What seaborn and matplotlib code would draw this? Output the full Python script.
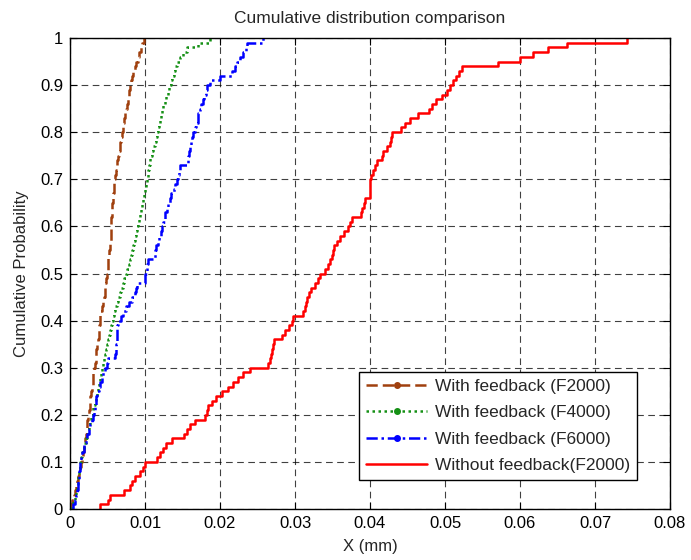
import matplotlib
matplotlib.use("Agg")
import matplotlib.pyplot as plt
from matplotlib.lines import Line2D
import seaborn as sns
import pandas as pd

# ---- data (displacement samples, mm) ----
f2000_fb = [
    0.0001, 0.0003, 0.0005, 0.0006, 0.0008, 0.0009, 0.0010, 0.0012, 0.0013, 0.0015,
    0.0016, 0.0017, 0.0018, 0.0019, 0.0020, 0.0021, 0.0022, 0.0022, 0.0023, 0.0024,
    0.0025, 0.0026, 0.0026, 0.0027, 0.0028, 0.0029, 0.0030, 0.0030, 0.0031, 0.0032,
    0.0033, 0.0034, 0.0034, 0.0035, 0.0036, 0.0037, 0.0038, 0.0038, 0.0039, 0.0040,
    0.0040, 0.0040, 0.0043, 0.0044, 0.0045, 0.0046, 0.0047, 0.0047, 0.0048, 0.0049,
    0.0050, 0.0050, 0.0051, 0.0051, 0.0052, 0.0053, 0.0053, 0.0054, 0.0054, 0.0055,
    0.0055, 0.0055, 0.0056, 0.0056, 0.0056, 0.0057, 0.0057, 0.0058, 0.0058, 0.0059,
    0.0060, 0.0061, 0.0062, 0.0063, 0.0064, 0.0065, 0.0066, 0.0067, 0.0068, 0.0069,
    0.0070, 0.0071, 0.0072, 0.0073, 0.0075, 0.0076, 0.0077, 0.0078, 0.0079, 0.0080,
    0.0081, 0.0083, 0.0084, 0.0086, 0.0088, 0.0090, 0.0092, 0.0094, 0.0096, 0.0099,
]
f4000_fb = [
    0.0002, 0.0004, 0.0006, 0.0008, 0.0009, 0.0010, 0.0011, 0.0012, 0.0013, 0.0013,
    0.0015, 0.0016, 0.0018, 0.0019, 0.0021, 0.0022, 0.0024, 0.0025, 0.0027, 0.0028,
    0.0030, 0.0031, 0.0033, 0.0034, 0.0036, 0.0037, 0.0038, 0.0040, 0.0041, 0.0043,
    0.0044, 0.0045, 0.0046, 0.0048, 0.0049, 0.0050, 0.0052, 0.0053, 0.0055, 0.0056,
    0.0057, 0.0059, 0.0060, 0.0062, 0.0064, 0.0066, 0.0068, 0.0070, 0.0072, 0.0075,
    0.0076, 0.0078, 0.0080, 0.0081, 0.0083, 0.0084, 0.0085, 0.0087, 0.0088, 0.0089,
    0.0091, 0.0092, 0.0093, 0.0095, 0.0096, 0.0097, 0.0099, 0.0100, 0.0101, 0.0103,
    0.0104, 0.0104, 0.0105, 0.0106, 0.0107, 0.0109, 0.0111, 0.0113, 0.0114, 0.0116,
    0.0117, 0.0119, 0.0120, 0.0121, 0.0123, 0.0124, 0.0126, 0.0128, 0.0130, 0.0132,
    0.0134, 0.0136, 0.0138, 0.0140, 0.0143, 0.0146, 0.0150, 0.0156, 0.0170, 0.0187,
]
f6000_fb = [
    0.0004, 0.0006, 0.0008, 0.0009, 0.0011, 0.0011, 0.0012, 0.0012, 0.0013, 0.0013,
    0.0015, 0.0016, 0.0018, 0.0019, 0.0021, 0.0023, 0.0025, 0.0027, 0.0029, 0.0031,
    0.0032, 0.0033, 0.0034, 0.0035, 0.0036, 0.0038, 0.0040, 0.0042, 0.0044, 0.0047,
    0.0049, 0.0051, 0.0060, 0.0061, 0.0061, 0.0062, 0.0062, 0.0063, 0.0063, 0.0064,
    0.0068, 0.0071, 0.0075, 0.0079, 0.0083, 0.0086, 0.0088, 0.0089, 0.0100, 0.0100,
    0.0102, 0.0103, 0.0104, 0.0113, 0.0113, 0.0115, 0.0117, 0.0119, 0.0121, 0.0123,
    0.0124, 0.0126, 0.0127, 0.0129, 0.0131, 0.0133, 0.0135, 0.0138, 0.0140, 0.0143,
    0.0144, 0.0145, 0.0147, 0.0157, 0.0157, 0.0159, 0.0160, 0.0161, 0.0162, 0.0164,
    0.0166, 0.0168, 0.0170, 0.0171, 0.0173, 0.0175, 0.0177, 0.0179, 0.0181, 0.0183,
    0.0187, 0.0200, 0.0216, 0.0220, 0.0223, 0.0226, 0.0231, 0.0234, 0.0236, 0.0257,
]
f2000_nofb = [
    0.0040, 0.0051, 0.0053, 0.0072, 0.0080, 0.0083, 0.0087, 0.0093, 0.0097, 0.0100,
    0.0116, 0.0120, 0.0124, 0.0128, 0.0136, 0.0152, 0.0156, 0.0160, 0.0167, 0.0180,
    0.0183, 0.0184, 0.0189, 0.0195, 0.0203, 0.0211, 0.0217, 0.0224, 0.0231, 0.0240,
    0.0264, 0.0267, 0.0268, 0.0269, 0.0271, 0.0272, 0.0283, 0.0287, 0.0292, 0.0296,
    0.0297, 0.0311, 0.0313, 0.0315, 0.0316, 0.0319, 0.0321, 0.0327, 0.0331, 0.0333,
    0.0340, 0.0344, 0.0347, 0.0349, 0.0351, 0.0352, 0.0356, 0.0360, 0.0365, 0.0371,
    0.0373, 0.0376, 0.0388, 0.0389, 0.0392, 0.0393, 0.0400, 0.0400, 0.0400, 0.0400,
    0.0401, 0.0404, 0.0407, 0.0409, 0.0416, 0.0417, 0.0423, 0.0427, 0.0428, 0.0429,
    0.0441, 0.0447, 0.0453, 0.0464, 0.0479, 0.0483, 0.0488, 0.0496, 0.0503, 0.0507,
    0.0511, 0.0515, 0.0519, 0.0523, 0.0571, 0.0600, 0.0617, 0.0637, 0.0663, 0.0743,
]

labels = ["With feedback (F2000)", "With feedback (F4000)",
          "With feedback (F6000)", "Without feedback(F2000)"]
series = [f2000_fb, f4000_fb, f6000_fb, f2000_nofb]
colors = ["#A0400E", "#159015", "#0000FF", "#FF0000"]
styles = [(0, (4.5, 2.0)), (0, (1, 1.4)), (0, (4.5, 1.5, 1, 1.5)), "-"]

x_ticks = [0, 0.01, 0.02, 0.03, 0.04, 0.05, 0.06, 0.07, 0.08]
x_tick_labels = ["0", "0.01", "0.02", "0.03", "0.04", "0.05", "0.06", "0.07", "0.08"]
y_ticks = [0, 0.1, 0.2, 0.3, 0.4, 0.5, 0.6, 0.7, 0.8, 0.9, 1.0]
y_tick_labels = ["0", "0.1", "0.2", "0.3", "0.4", "0.5", "0.6", "0.7", "0.8", "0.9", "1"]

sns.set_theme(style="white")
plt.rcParams["font.family"] = ["Liberation Sans", "DejaVu Sans"]

fig = plt.figure(figsize=(6.91, 5.60), dpi=100)
ax = fig.add_axes([70 / 691, 1 - 509 / 560, 600 / 691, 471 / 560])

for vals, lab, col, ls in zip(series, labels, colors, styles):
    df = pd.DataFrame({"x": vals})
    sns.ecdfplot(data=df, x="x", ax=ax, color=col, linestyle=ls,
                 linewidth=1.8, label=lab)

ax.set_xlim(0, 0.08)
ax.set_ylim(0, 1)
ax.set_xticks(x_ticks)
ax.set_xticklabels(x_tick_labels)
ax.set_yticks(y_ticks)
ax.set_yticklabels(y_tick_labels)
ax.grid(True, color="black", linestyle=(0, (6, 4)), linewidth=0.8, alpha=0.75)
ax.set_axisbelow(True)
for sp in ax.spines.values():
    sp.set_color("black")
    sp.set_linewidth(1.0)
ax.tick_params(direction="in", length=5, width=0.8, colors="black",
               labelsize=12, top=True, right=True, bottom=True, left=True,
               labeltop=False, labelright=False, pad=5)
ax.set_xlabel("X (mm)", fontsize=12, labelpad=6)
ax.set_ylabel("Cumulative Probability", fontsize=12, labelpad=8)
ax.set_title("Cumulative distribution comparison", fontsize=12.5, pad=11)

handles = []
for lab, col, ls in zip(labels, colors, styles):
    mk = "o" if ls != "-" else None
    handles.append(Line2D([0], [0], color=col, linestyle=ls, linewidth=1.8,
                          marker=mk, markersize=4, label=lab))
leg = ax.legend(handles=handles, loc="lower right",
                bbox_to_anchor=(0.945, 0.0616), fontsize=12.5, frameon=True,
                fancybox=False, framealpha=1, edgecolor="black",
                handlelength=3.5, handletextpad=0.45, borderpad=0.4,
                labelspacing=0.65, borderaxespad=0)
leg.get_frame().set_linewidth(1.0)

fig.savefig("out.png", dpi=100, facecolor="white")
